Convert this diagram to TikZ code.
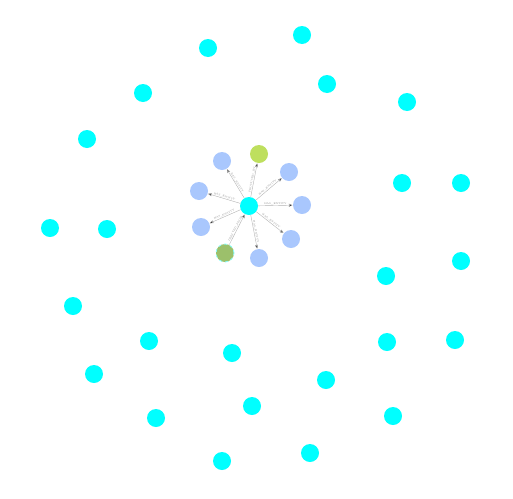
\documentclass[tikz,border=0pt]{standalone}
\usepackage{tikz}
\usetikzlibrary{arrows}

\definecolor{hubcyan}{HTML}{00FFFF}
\definecolor{leafblue}{HTML}{A9C7FD}
\definecolor{limegreen}{HTML}{BEDF5E}
\definecolor{olivegreen}{HTML}{9CC06B}

\begin{document}
\begin{tikzpicture}[x=1pt,y=-1pt,->,>=stealth',shorten >=0.5pt,
  main node/.style={circle,fill=hubcyan,minimum size=18pt,inner sep=0pt},
  leaf node/.style={circle,fill=leafblue,minimum size=18pt,inner sep=0pt},
  top node/.style={circle,fill=limegreen,minimum size=18pt,inner sep=0pt},
  src node/.style={circle,fill=olivegreen,draw=hubcyan!45,dashed,line width=0.8pt,minimum size=18pt,inner sep=0pt},
  rel/.style={draw=black!30,line width=0.4pt},
  tag/.style={font=\fontsize{2.5}{3}\selectfont,text=black!45,sloped,above,inner sep=0.6pt}]
  \useasboundingbox (0,0) rectangle (513,498);

  % outer ring
  \node[main node] (o1)  at (208,48)  {};
  \node[main node] (o2)  at (302,35)  {};
  \node[main node] (o3)  at (143,93)  {};
  \node[main node] (o4)  at (327,84)  {};
  \node[main node] (o5)  at (407,102) {};
  \node[main node] (o6)  at (87,139)  {};
  \node[main node] (o7)  at (402,183) {};
  \node[main node] (o8)  at (461,183) {};
  \node[main node] (o9)  at (50,228)  {};
  \node[main node] (o10) at (107,229) {};
  \node[main node] (o11) at (461,261) {};
  \node[main node] (o12) at (386,276) {};
  \node[main node] (o13) at (73,306)  {};
  \node[main node] (o14) at (149,341) {};
  \node[main node] (o15) at (232,353) {};
  \node[main node] (o16) at (387,342) {};
  \node[main node] (o17) at (455,340) {};
  \node[main node] (o18) at (94,374)  {};
  \node[main node] (o19) at (326,380) {};
  \node[main node] (o20) at (252,406) {};
  \node[main node] (o21) at (156,418) {};
  \node[main node] (o22) at (393,416) {};
  \node[main node] (o23) at (310,453) {};
  \node[main node] (o24) at (222,461) {};

  % star in the middle
  \node[main node] (hub) at (249,206) {};
  \node[leaf node] (b1) at (222,161) {};
  \node[leaf node] (b2) at (289,172) {};
  \node[leaf node] (b3) at (199,191) {};
  \node[leaf node] (b4) at (302,205) {};
  \node[leaf node] (b5) at (201,227) {};
  \node[leaf node] (b6) at (291,239) {};
  \node[leaf node] (b7) at (259,258) {};
  \node[top node]  (g1) at (259,154) {};
  \node[src node]  (g2) at (225,253) {};

  \path[rel]
    (hub) edge node[tag] {HAS\_ENTITY} (b1)
    (hub) edge node[tag] {HAS\_ENTITY} (b2)
    (hub) edge node[tag] {HAS\_ENTITY} (b3)
    (hub) edge node[tag] {HAS\_ENTITY} (b4)
    (hub) edge node[tag] {HAS\_ENTITY} (b5)
    (hub) edge node[tag] {HAS\_ENTITY} (b6)
    (hub) edge node[tag] {HAS\_ENTITY} (b7)
    (hub) edge node[tag] {PRODUCED\_BY} (g1)
    (g2) edge node[tag] {DERIVED\_FROM} (hub);
\end{tikzpicture}
\end{document}
